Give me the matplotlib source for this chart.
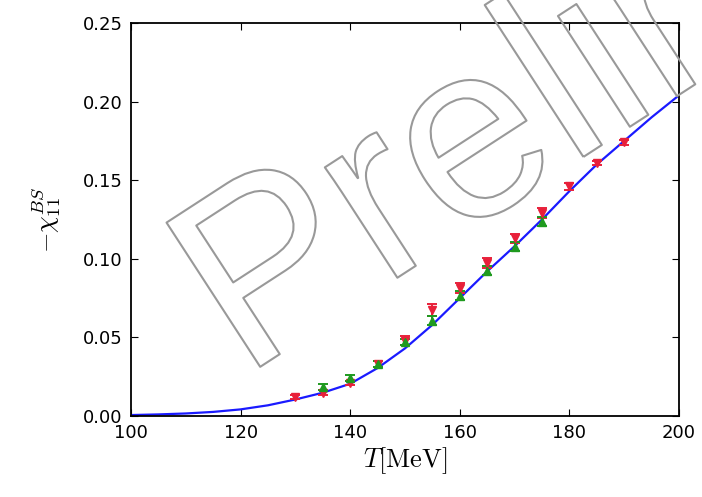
import matplotlib
matplotlib.use("Agg")
import matplotlib.pyplot as plt
import matplotlib.patheffects as pe
import numpy as np

plt.rcParams['mathtext.fontset'] = 'cm'

# Data
T_red = [130, 135, 140, 145, 150, 155, 160, 165, 170, 175, 180, 185, 190]
chi_red = [0.012, 0.0148, 0.021, 0.033, 0.048, 0.0675, 0.0814, 0.0973, 0.113, 0.129, 0.146, 0.161, 0.174]
err_red = [0.0015, 0.0015, 0.0015, 0.002, 0.003, 0.004, 0.003, 0.003, 0.003, 0.003, 0.002, 0.0015, 0.0015]

T_green = [135, 140, 145, 150, 155, 160, 165, 170, 175]
chi_green = [0.0186, 0.024, 0.033, 0.047, 0.0607, 0.0766, 0.0925, 0.1077, 0.1236]
err_green = [0.002, 0.002, 0.002, 0.002, 0.003, 0.003, 0.003, 0.003, 0.003]

T_curve = [100, 105, 110, 115, 120, 125, 130, 135, 140, 145, 150, 155, 160,
           165, 170, 175, 180, 185, 190, 195, 200]
chi_curve = [0.0006, 0.001, 0.0016, 0.0026, 0.0042, 0.0068, 0.0105, 0.0148, 0.0205,
             0.0305, 0.043, 0.058, 0.075, 0.092, 0.108, 0.125, 0.143, 0.160,
             0.175, 0.190, 0.204]

xticks = [100, 120, 140, 160, 180, 200]
yticks = [0.00, 0.05, 0.10, 0.15, 0.20, 0.25]

fig = plt.figure(figsize=(7.02, 4.97), dpi=100)
ax = fig.add_axes([0.1866, 0.163, 0.7806, 0.7907])

ax.plot(T_curve, chi_curve, color='#1a1aff', lw=1.6, zorder=2)
ax.errorbar(T_red, chi_red, yerr=err_red, fmt='v', color='#e8203a', ms=5.5,
            capsize=3.5, elinewidth=1.4, capthick=1.4, mec='#e8203a', zorder=3)
ax.errorbar(T_green, chi_green, yerr=err_green, fmt='^', color='#1f9a1f', ms=5.5,
            capsize=3.5, elinewidth=1.4, capthick=1.4, mec='#1f9a1f', zorder=3)

ax.set_xlim(100, 200)
ax.set_ylim(0, 0.25)
ax.set_xticks(xticks)
ax.set_yticks(yticks)
ax.set_yticklabels([f"{v:.2f}" for v in yticks])
ax.tick_params(direction='in', top=True, right=True, labelsize=13, length=5, pad=6)
for s in ax.spines.values():
    s.set_linewidth(1.3)

ax.set_xlabel(r'$T[\mathrm{MeV}]$', fontsize=19, labelpad=2)
ax.set_ylabel(r'$-\chi_{11}^{BS}$', fontsize=19, labelpad=14)

fig.text(243 / 702, 1 - 378 / 497, 'Preliminary', fontsize=180, rotation=33,
         ha='left', va='baseline', rotation_mode='anchor',
         color='none', family='Liberation Sans',
         path_effects=[pe.withStroke(linewidth=1.5, foreground='#999999')], zorder=5)

fig.savefig('out.png', dpi=100)
